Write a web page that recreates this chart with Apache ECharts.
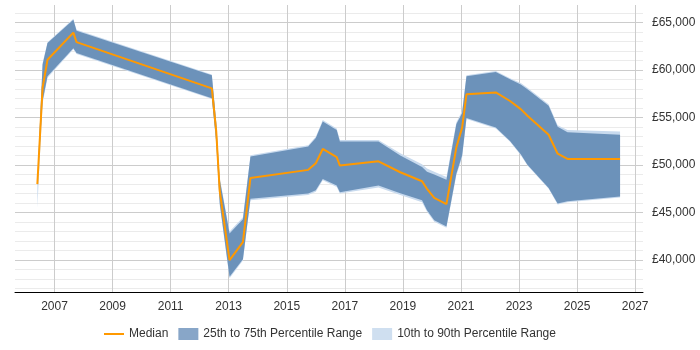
<!DOCTYPE html>
<html>
<head>
<meta charset="UTF-8">
<title>Salary trend</title>
<script src="https://cdn.jsdelivr.net/npm/echarts@6/dist/echarts.min.js"></script>
<style>
body{margin:0;background:#fff;}
#chart{width:700px;height:350px;}
</style>
</head>
<body>
<div id="chart"></div>
<script type="text/javascript">
// dates as decimal years
var years = [2006.41, 2006.59, 2006.76, 2007.65, 2007.76, 2012.42, 2012.57, 2012.69, 2013.03, 2013.49,
  2013.75, 2015.74, 2016.0, 2016.24, 2016.72, 2016.83, 2018.16, 2018.91, 2019.66, 2019.83,
  2020.08, 2020.5, 2020.84, 2021.04, 2021.19, 2022.2, 2022.69, 2023.06, 2023.29, 2024.02,
  2024.33, 2024.67, 2026.48];
var median = [48000, 58150, 61100, 63950, 62950, 58080, 53600, 47300, 40000, 41900,
  48650, 49500, 50200, 51700, 50850, 49950, 50400, 49250, 48300, 47500,
  46550, 45900, 51850, 53950, 57450, 57650, 56750, 55900, 55200, 53200,
  51200, 50650, 50650];
var p25 = [47800, 56750, 59350, 62300, 61800, 57050, 52500, 46000, 38250, 40100,
  46450, 47000, 47350, 48550, 47850, 47150, 47850, 47050, 46300, 45250,
  44200, 43550, 49100, 51000, 54950, 53950, 52550, 51150, 50050, 47600,
  45950, 46200, 46700];
var p75 = [48300, 60600, 62850, 65300, 64150, 59450, 54500, 48500, 42800, 44300,
  50900, 51950, 52850, 54600, 53700, 52500, 52500, 51000, 49800, 49300,
  49000, 48450, 54300, 55500, 59350, 59800, 59050, 58500, 58000, 56250,
  54050, 53450, 53200];
var p10 = [45500, 56500, 59200, 62200, 61700, 56950, 52300, 45800, 38100, 39950,
  46300, 46850, 47200, 48400, 47700, 47000, 47650, 46850, 46100, 45100,
  44050, 43400, 48900, 50800, 54850, 53850, 52450, 51050, 49950, 47500,
  45850, 46100, 46600];
var p90 = [48500, 60750, 62950, 65400, 64250, 59550, 54650, 48700, 43000, 44500,
  51050, 52100, 53000, 54750, 53850, 52650, 52650, 51250, 50100, 49650,
  49300, 48750, 54500, 55700, 59450, 59900, 59150, 58650, 58150, 56400,
  54200, 53700, 53550];
var xTicks = [2007, 2009, 2011, 2013, 2015, 2017, 2019, 2021, 2023, 2025, 2027];
var yTicks = [40000, 45000, 50000, 55000, 60000, 65000];
var yMinor = [37000, 38000, 39000, 41000, 42000, 43000, 44000, 46000, 47000, 48000, 49000,
  51000, 52000, 53000, 54000, 56000, 57000, 58000, 59000, 61000, 62000, 63000, 64000, 66000];

// rows are [value, year] so that the stack runs on the value dimension
function pairs(ys){
  var out = [];
  for (var i = 0; i < years.length; i++) out.push([ys[i], years[i]]);
  return out;
}
function diff(hi, lo){
  var out = [];
  for (var i = 0; i < years.length; i++) out.push([hi[i] - lo[i], years[i]]);
  return out;
}

var font = 'Liberation Sans, Arial, sans-serif';
var enc = {x: 1, y: 0};
var mychart = echarts.init(document.getElementById('chart'));
var option = {
  animation: false,
  grid: {left: 15, right: 57, top: 5, bottom: 58},
  legend: {
    left: 98, bottom: 5,
    itemWidth: 20, itemHeight: 12, itemGap: 10,
    textStyle: {fontFamily: font, fontSize: 12, color: '#333'},
    data: [
      {name: 'Median', itemStyle: {color: 'rgba(0,0,0,0)', borderWidth: 0}},
      {name: '25th to 75th Percentile Range', icon: 'rect', itemStyle: {color: '#88a6c8'}},
      {name: '10th to 90th Percentile Range', icon: 'rect', itemStyle: {color: '#cfdff0'}}
    ]
  },
  xAxis: {
    type: 'value', min: 2005.64, max: 2027.27,
    axisLine: {lineStyle: {color: '#000', width: 1}},
    axisTick: {show: false, customValues: xTicks},
    axisLabel: {customValues: xTicks, formatter: function(v){ return String(v); },
      fontFamily: font, fontSize: 12, color: '#333', margin: 9},
    splitLine: {show: true, lineStyle: {color: '#cccccc'}}
  },
  yAxis: [{
    type: 'value', position: 'right', min: 36640, max: 66860,
    axisLine: {show: false},
    axisTick: {show: false, customValues: yTicks},
    axisLabel: {customValues: yTicks, margin: 9, fontFamily: font, fontSize: 12, color: '#333',
      formatter: function(v){ return '£' + v.toLocaleString('en-GB'); }},
    splitLine: {lineStyle: {color: '#cccccc'}}
  }, {
    type: 'value', position: 'right', min: 36640, max: 66860,
    axisLine: {show: false},
    axisTick: {show: false, customValues: yMinor},
    axisLabel: {show: false},
    splitLine: {lineStyle: {color: '#ebebeb'}}
  }],
  series: [
    {name: 'p10', type: 'line', stack: 'outer', data: pairs(p10), encode: enc, symbol: 'none',
      lineStyle: {opacity: 0}, silent: true},
    {name: '10th to 90th Percentile Range', type: 'line', stack: 'outer', data: diff(p90, p10), encode: enc,
      symbol: 'none', lineStyle: {opacity: 0}, areaStyle: {color: '#c8daee', opacity: 1},
      itemStyle: {color: '#cfdff0'}},
    {name: 'p25', type: 'line', stack: 'inner', data: pairs(p25), encode: enc, symbol: 'none',
      lineStyle: {opacity: 0}, silent: true},
    {name: '25th to 75th Percentile Range', type: 'line', stack: 'inner', data: diff(p75, p25), encode: enc,
      symbol: 'none', lineStyle: {opacity: 0}, areaStyle: {color: '#6c92ba', opacity: 1},
      itemStyle: {color: '#88a6c8'}},
    {name: 'Median', type: 'line', data: pairs(median), encode: enc, symbol: 'none',
      lineStyle: {color: '#ff9900', width: 2}, itemStyle: {color: '#ff9900'}}
  ]
};
mychart.setOption(option);
</script>
</body>
</html>
